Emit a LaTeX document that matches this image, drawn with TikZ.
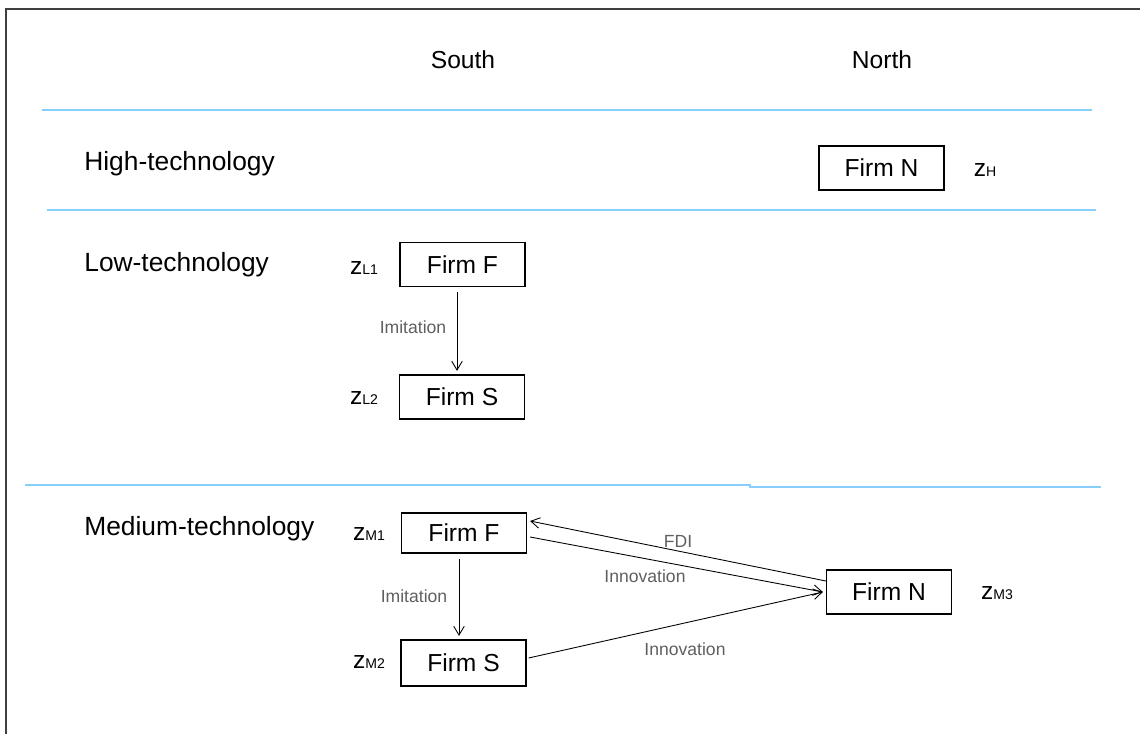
\documentclass[tikz,border=0pt]{standalone}
\usepackage{fontspec}
\setmainfont{Liberation Sans}
\usetikzlibrary{arrows.meta,calc}

\definecolor{bandblue}{RGB}{135,206,250}
\definecolor{labelgray}{RGB}{95,95,95}

\tikzset{
  firm/.style={draw, line width=0.7pt, minimum width=2.5cm, minimum height=0.88cm,
    inner sep=0pt, font=\fontsize{14}{16}\selectfont},
  head/.style={font=\fontsize{14}{16}\selectfont},
  rowname/.style={anchor=west, inner sep=0pt, font=\fontsize{15}{17}\selectfont},
  zlab/.style={inner sep=0pt, font=\fontsize{14}{16}\selectfont},
  flow/.style={draw, line width=0.5pt, -{Straight Barb[length=5pt,width=6pt]}},
  flowlab/.style={inner sep=0pt, text=labelgray, font=\fontsize{10}{12}\selectfont},
  band/.style={draw=bandblue, line width=1pt}
}
\newcommand{\zsub}[1]{z{\fontsize{8}{9}\selectfont #1}}

\begin{document}
\begin{tikzpicture}[x=0.02cm, y=-0.02cm]
\useasboundingbox (0,0) rectangle (1140,734);

% frame
\draw[line width=1.3pt, black!75] (6,734) -- (6,9) -- (1140,9);

% headings
\node[head] (south) at (463,60) {South};
\node[head] (north) at (882,60) {North};

% bands
\draw[band] (42,110) -- (1092,110);
\draw[band] (47,210) -- (1096,210);
\draw[band] (25,485) -- (750,485) -- (750,487) -- (1101,487);

% row names
\node[rowname] (high) at (84,164) {High-technology};
\node[rowname] (low) at (84,265) {Low-technology};
\node[rowname] (medium) at (84,529) {Medium-technology};

% high-technology
\node[firm] (hN) at (881.5,168) {Firm N};
\node[zlab] (zH) at (985,170) {\zsub{H}};

% low-technology
\node[firm] (lF) at (462.5,264.5) {Firm F};
\node[firm] (lS) at (462,397) {Firm S};
\node[zlab] (zL1) at (364,268) {\zsub{L1}};
\node[zlab] (zL2) at (364,398) {\zsub{L2}};
\draw[flow, shorten <=3pt, shorten >=2pt] (lF.south -| 457,0) -- (lS.north -| 457,0);
\node[flowlab] (limit) at (413,327) {Imitation};

% medium-technology
\node[firm, minimum height=0.8cm] (mF) at (464,533) {Firm F};
\node[firm, minimum height=0.92cm] (mS) at (463.5,663) {Firm S};
\node[firm] (mN) at (889,592) {Firm N};
\node[zlab] (zM1) at (369,534) {\zsub{M1}};
\node[zlab] (zM2) at (369,662) {\zsub{M2}};
\node[zlab] (zM3) at (997,593) {\zsub{M3}};

\draw[flow, shorten <=3pt, shorten >=2pt] (mF.south -| 459,0) -- (mS.north -| 459,0);
\node[flowlab] (mimit) at (414,596) {Imitation};

\draw[flow] ($(mN.west)+(0,-11)$) -- ($(mF.east)+(3,-12)$);
\draw[flow] ($(mF.east)+(3,4)$) -- ($(mN.west)+(-3,0)$);
\draw[flow] ($(mS.east)+(2,-5)$) -- ($(mN.west)+(-3,0)$);
\node[flowlab] (fdi) at (678,541) {FDI};
\node[flowlab] (innovF) at (645,576) {Innovation};
\node[flowlab] (innovS) at (685,649) {Innovation};
\end{tikzpicture}
\end{document}
